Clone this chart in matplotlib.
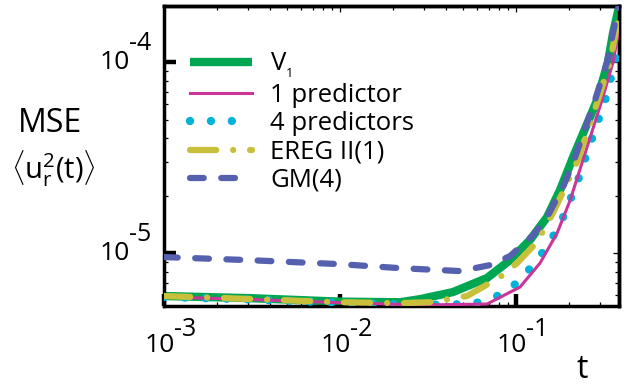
import matplotlib
matplotlib.use("Agg")
import matplotlib.pyplot as plt

plt.rcParams['font.family'] = ['Open Sans', 'DejaVu Sans']
plt.rcParams['mathtext.fontset'] = 'custom'
plt.rcParams['mathtext.rm'] = 'Open Sans'
plt.rcParams['mathtext.it'] = 'Open Sans:italic'
plt.rcParams['mathtext.bf'] = 'Open Sans:bold'

# ---------------- data ----------------
t_v1 = [0.001, 0.00308, 0.01, 0.0219, 0.0285, 0.0438, 0.0684, 0.0924, 0.120, 0.150,
        0.178, 0.211, 0.289, 0.333, 0.356, 0.385]
mse_v1 = [5.96e-6, 5.81e-6, 5.57e-6, 5.53e-6, 5.74e-6, 6.25e-6, 7.40e-6, 9.18e-6, 1.17e-5,
          1.54e-5, 2.14e-5, 3.18e-5, 6.32e-5, 1.0e-4, 1.42e-4, 1.95e-4]

t_p1 = [0.001, 0.00308, 0.01, 0.0285, 0.0684, 0.1054, 0.137, 0.171, 0.203, 0.240,
        0.308, 0.356, 0.385]
mse_p1 = [5.89e-6, 5.72e-6, 5.50e-6, 5.35e-6, 5.41e-6, 6.64e-6, 8.87e-6, 1.27e-5, 1.89e-5,
          3.07e-5, 6.32e-5, 1.0e-4, 1.5e-4]

t_p4 = [0.001, 0.00308, 0.01, 0.0285, 0.0570, 0.0780, 0.1014, 0.128, 0.156, 0.185,
        0.222, 0.253, 0.321, 0.365, 0.385]
mse_p4 = [5.89e-6, 5.72e-6, 5.50e-6, 5.35e-6, 5.41e-6, 5.96e-6, 6.97e-6, 8.87e-6, 1.14e-5,
          1.54e-5, 2.32e-5, 3.34e-5, 6.32e-5, 1.0e-4, 1.2e-4]

t_ereg = [0.001, 0.00308, 0.01, 0.0219, 0.0324, 0.0527, 0.0811, 0.1014, 0.1315, 0.162,
          0.195, 0.225, 0.292, 0.342, 0.380, 0.385]
mse_ereg = [5.96e-6, 5.75e-6, 5.53e-6, 5.47e-6, 5.53e-6, 5.96e-6, 7.48e-6, 8.87e-6, 1.14e-5,
            1.62e-5, 2.32e-5, 3.07e-5, 6.32e-5, 1.0e-4, 1.66e-4, 1.8e-4]

t_gm = [0.001, 0.00308, 0.01, 0.0219, 0.0481, 0.0712, 0.0924, 0.125, 0.150, 0.185,
        0.211, 0.281, 0.329, 0.375, 0.385]
mse_gm = [9.53e-6, 9.18e-6, 8.75e-6, 8.34e-6, 8.05e-6, 8.65e-6, 9.64e-6, 1.24e-5, 1.54e-5,
          2.22e-5, 2.96e-5, 6.32e-5, 1.0e-4, 1.81e-4, 2.0e-4]

labels = ['V$_\\mathregular{_1}$', '1 predictor', '4 predictors', 'EREG II(1)', 'GM(4)']

xtick_vals = [1e-3, 1e-2, 1e-1]
xtick_exps = ['-3', '-2', '-1']
ytick_vals = [1e-5, 1e-4]
ytick_exps = ['-5', '-4']

# ---------------- figure ----------------
fig = plt.figure(figsize=(6.33, 3.85), dpi=100)
ax = fig.add_axes([0.259, 0.205, 0.719, 0.779])
ax.set_xscale('log')
ax.set_yscale('log')
ax.set_xlim(1e-3, 0.385)
ax.set_ylim(5.28e-6, 1.96e-4)

c_green = '#00A651'
c_mag = '#C9359A'
c_cyan = '#00B2D8'
c_yel = '#C8C03A'
c_blue = '#5561AE'

l_v1, = ax.plot(t_v1, mse_v1, color=c_green, lw=6.0, solid_capstyle='butt', zorder=2)
l_p4, = ax.plot(t_p4, mse_p4, color=c_cyan, lw=6.0, linestyle=(0, (0.01, 2.5)),
                dash_capstyle='round', zorder=3)
l_p1, = ax.plot(t_p1, mse_p1, color=c_mag, lw=2.2, zorder=4)
l_er, = ax.plot(t_ereg, mse_ereg, color=c_yel, lw=4.5, linestyle=(0, (4.2, 2.7, 0.01, 2.7)),
                dash_capstyle='round', zorder=5)
l_gm, = ax.plot(t_gm, mse_gm, color=c_blue, lw=4.5, linestyle=(0, (2.2, 2.8)),
                dash_capstyle='round', zorder=6)

leg = ax.legend([l_v1, l_p1, l_p4, l_er, l_gm], labels, loc='upper left',
                bbox_to_anchor=(0.057, 0.85), frameon=False, fontsize=18.5,
                handlelength=2.4, handletextpad=0.72, labelspacing=0.12,
                borderpad=0, borderaxespad=0)

# spines and ticks
for s in ax.spines.values():
    s.set_linewidth(2.5)
ax.tick_params(which='major', direction='in', length=8.5, width=3.2, labelbottom=False,
               labelleft=False)
ax.tick_params(which='minor', direction='in', length=3, width=0.9)
ax.set_xticks(xtick_vals)
ax.set_yticks(ytick_vals)

secx = ax.secondary_xaxis('top')
secx.set_xticks(xtick_vals)
secx.tick_params(which='major', direction='in', length=4, width=0.9, labeltop=False)
secx.tick_params(which='minor', direction='in', length=3, width=0.9)
secx.spines['top'].set_linewidth(2.5)
secy = ax.secondary_yaxis('right')
secy.set_yticks(ytick_vals)
secy.tick_params(which='major', direction='in', length=4, width=0.9, labelright=False)
secy.tick_params(which='minor', direction='in', length=3, width=0.9)
secy.spines['right'].set_linewidth(2.5)

# tick labels: "10" with superscript exponent
for v, e in zip(xtick_vals, xtick_exps):
    ax.annotate('10', xy=(v, 0), xycoords=('data', 'axes fraction'), xytext=(-4, -39),
                textcoords='offset pixels', ha='center', va='center', fontsize=19,
                annotation_clip=False)
    ax.annotate(e, xy=(v, 0), xycoords=('data', 'axes fraction'), xytext=(10, -23),
                textcoords='offset pixels', ha='left', va='center', fontsize=18,
                annotation_clip=False)
for v, e in zip(ytick_vals, ytick_exps):
    ax.annotate('10', xy=(0, v), xycoords=('axes fraction', 'data'), xytext=(-34, 0),
                textcoords='offset pixels', ha='right', va='center', fontsize=19,
                annotation_clip=False)
    ax.annotate(e, xy=(0, v), xycoords=('axes fraction', 'data'), xytext=(-35, 19),
                textcoords='offset pixels', ha='left', va='center', fontsize=18,
                annotation_clip=False)

fig.text(0.079, 0.679, 'MSE', ha='center', va='center', fontsize=23)
fig.text(0.084, 0.562, r'$\langle\mathrm{u}_\mathrm{r}^\mathrm{2}\mathrm{(t)}\rangle$',
         ha='center', va='center', fontsize=21)
fig.text(0.919, 0.04, 't', ha='center', va='center', fontsize=23)

fig.savefig('out.png', dpi=100)
